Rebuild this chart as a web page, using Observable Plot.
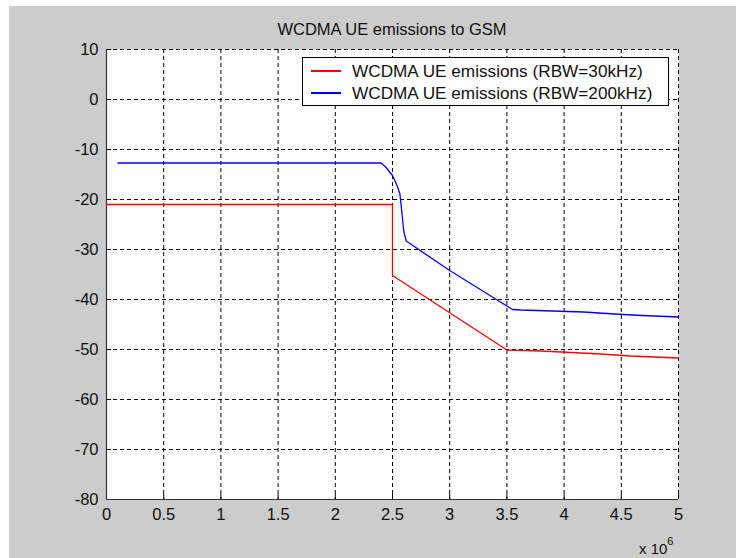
<!DOCTYPE html>
<html>
<head>
<meta charset="utf-8">
<script src="https://cdn.jsdelivr.net/npm/d3@7"></script>
<script src="https://cdn.jsdelivr.net/npm/@observablehq/plot@0.6"></script>
<style>
  html, body { margin: 0; padding: 0; background: #ffffff; }
  #fig { position: absolute; left: 9px; top: 6px; width: 727px; height: 552px; background: #cccccc; font-family: "Liberation Sans", Arial, sans-serif; color: #111; }
  #fig svg { position: absolute; left: 0; top: 0; background: transparent; }
  .title { position: absolute; left: 97px; width: 572px; top: 14px; text-align: center; font-size: 16.5px; }
  .legend { position: absolute; left: 293px; top: 51px; width: 365px; height: 47px; background: #fff; border: 1px solid #000; font-size: 17.2px; }
  .legend .row { position: absolute; left: 0; height: 20px; display: flex; align-items: center; }
  .legend .sw { display: inline-block; width: 30px; height: 1.6px; margin-left: 8px; margin-right: 11px; }
  .xexp { position: absolute; left: 630px; top: 532px; font-size: 15px; }
  .xexp sup { font-size: 11px; position: relative; top: -3px; }
</style>
</head>
<body>
<div id="fig">
  <div class="title">WCDMA UE emissions to GSM</div>
</div>
<script>
// Series (frequency offset in Hz, level in dB)
const redFreq = [0, 2.5e6, 2.5e6, 3.5e6, 3.8e6, 4.06e6, 4.32e6, 4.58e6, 5e6];
const redLevel = [-21, -21, -35.2, -50.1, -50.3, -50.6, -50.9, -51.3, -51.7];
const blueFreq = [0.1e6, 2.4e6, 2.44e6, 2.5e6, 2.54e6, 2.565e6, 2.58e6, 2.6e6, 2.62e6, 3.0e6, 3.5e6, 3.55e6, 3.62e6, 3.9e6, 4.17e6, 4.44e6, 4.68e6, 5e6];
const blueLevel = [-12.7, -12.7, -13.5, -15.2, -17.2, -18.9, -22.2, -26.5, -28.3, -34.2, -41.3, -42.0, -42.1, -42.3, -42.5, -42.9, -43.2, -43.5];
const seriesNames = ["WCDMA UE emissions (RBW=30kHz)", "WCDMA UE emissions (RBW=200kHz)"];
const seriesColors = ["#ff0000", "#0000ff"];
const xTicks = [0, 0.5e6, 1e6, 1.5e6, 2e6, 2.5e6, 3e6, 3.5e6, 4e6, 4.5e6, 5e6];
const yTicks = [-80, -70, -60, -50, -40, -30, -20, -10, 0, 10];

const red = redFreq.map((f, i) => ({f, v: redLevel[i]}));
const blue = blueFreq.map((f, i) => ({f, v: blueLevel[i]}));

const chart = Plot.plot({
  width: 727,
  height: 552,
  marginLeft: 97,
  marginRight: 58,
  marginTop: 43,
  marginBottom: 59,
  style: {fontFamily: "Liberation Sans, Arial, sans-serif", fontSize: "16.5px", color: "#111", background: "transparent"},
  x: {domain: [0, 5e6]},
  y: {domain: [-80, 10]},
  marks: [
    Plot.frame({fill: "white", stroke: null}),
    Plot.gridX(xTicks, {stroke: "#000", strokeOpacity: 1, strokeDasharray: "4,3"}),
    Plot.gridY(yTicks, {stroke: "#000", strokeOpacity: 1, strokeDasharray: "4,3"}),
    Plot.ruleX(xTicks, {y1: -80, y2: -79, stroke: "#000"}),
    Plot.ruleY(yTicks, {x1: 0, x2: 0.045e6, stroke: "#000"}),
    Plot.ruleX([0], {stroke: "#333", strokeWidth: 1.2}),
    Plot.ruleY([-80], {stroke: "#333", strokeWidth: 1.2}),
    Plot.axisX(xTicks, {tickSize: 0, tickPadding: 9, label: null, tickFormat: d => String(d / 1e6)}),
    Plot.axisY(yTicks, {tickSize: 0, tickPadding: 8, label: null, tickFormat: d => String(d)}),
    Plot.line(red, {x: "f", y: "v", stroke: seriesColors[0], strokeWidth: 1.3}),
    Plot.line(blue, {x: "f", y: "v", stroke: seriesColors[1], strokeWidth: 1.3})
  ]
});
const fig = document.getElementById("fig");
fig.appendChild(chart);

const legend = document.createElement("div");
legend.className = "legend";
seriesNames.forEach((name, i) => {
  const row = document.createElement("div");
  row.className = "row";
  row.style.top = (3 + i * 22) + "px";
  const sw = document.createElement("span");
  sw.className = "sw";
  sw.style.background = seriesColors[i];
  const t = document.createElement("span");
  t.textContent = name;
  row.appendChild(sw);
  row.appendChild(t);
  legend.appendChild(row);
});
fig.appendChild(legend);

const xexp = document.createElement("div");
xexp.className = "xexp";
xexp.innerHTML = "x 10<sup>6</sup>";
fig.appendChild(xexp);
</script>
</body>
</html>
